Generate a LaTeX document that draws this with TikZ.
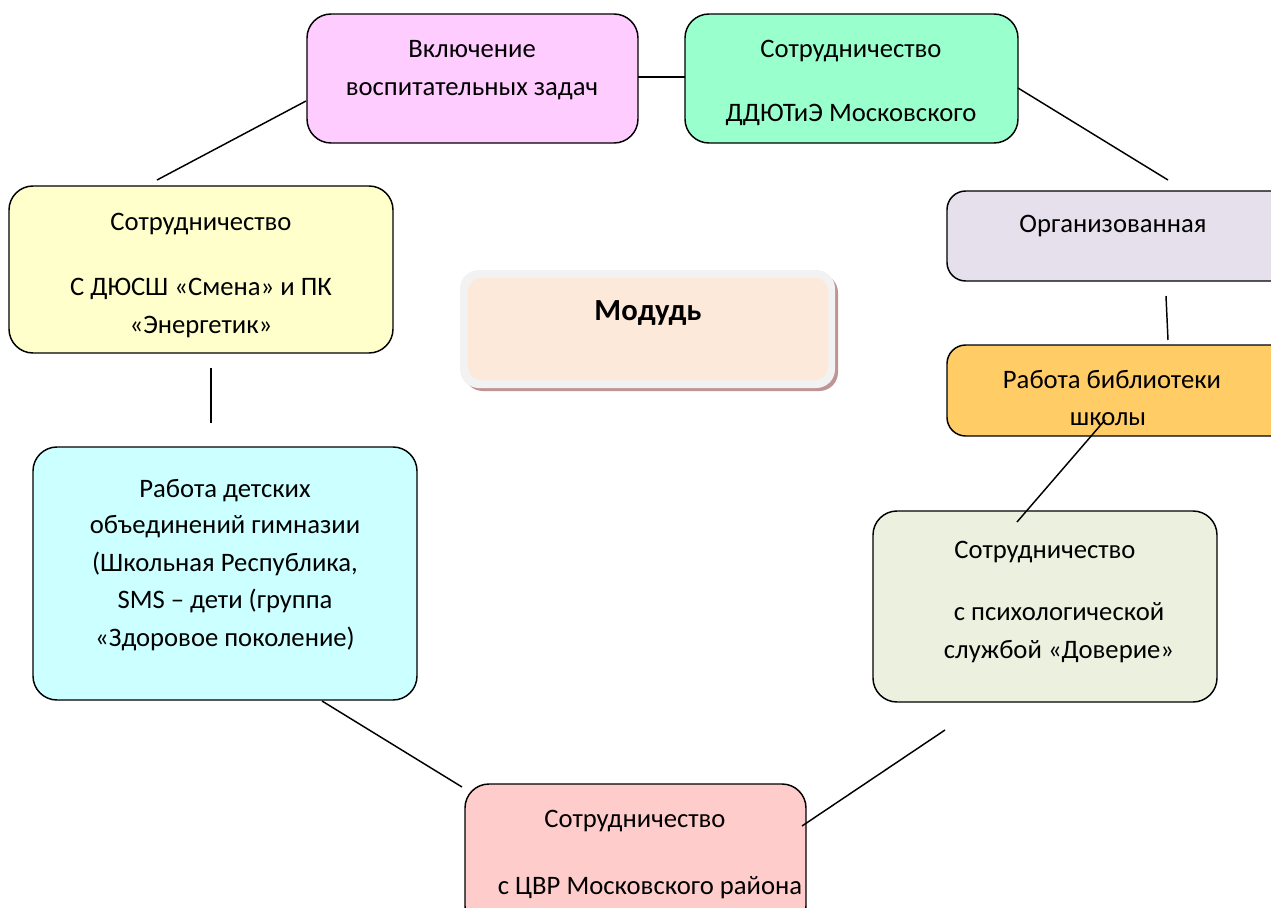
\documentclass[tikz,border=0pt]{standalone}
\usepackage{fontspec}
\setmainfont{Carlito}
\usetikzlibrary{fit}
\definecolor{cpink}{HTML}{FFCCFF}
\definecolor{cgreen}{HTML}{99FFCC}
\definecolor{cyellow}{HTML}{FFFFCC}
\definecolor{clav}{HTML}{E5E0EC}
\definecolor{corange}{HTML}{FFCC66}
\definecolor{ccyan}{HTML}{CCFFFF}
\definecolor{clgreen}{HTML}{EBF1DE}
\definecolor{crose}{HTML}{FFCCCC}
\definecolor{cpeach}{HTML}{FCE9DA}
\definecolor{cgrayb}{HTML}{F2F2F2}
\definecolor{cshadow}{HTML}{BF9494}
\begin{document}
\begin{tikzpicture}[x=0.75pt,y=-0.75pt,
  box/.style={draw=black,line width=1.1pt,rounded corners=18pt,inner sep=0pt},
  sbox/.style={box,rounded corners=14pt},
  txt/.style={anchor=base,inner sep=0pt,font=\fontsize{20}{24}\selectfont},
  link/.style={draw=black,line width=1.1pt}]
\useasboundingbox (0,0) rectangle (1271,907);
\clip (0,0) rectangle (1271,907);

% boxes
\node[box,fill=cpink,fit={(307,14) (638,143)}] (pink) {};
\node[box,fill=cgreen,fit={(685,14) (1018,143)}] (green) {};
\node[box,fill=cyellow,fit={(9,186) (393,353)}] (yellow) {};
\node[sbox,fill=clav,fit={(947,191) (1290,281)}] (lav) {};
\node[sbox,fill=corange,fit={(947,345) (1290,436)}] (orange) {};
\node[box,fill=ccyan,fit={(33,447) (417,700)}] (cyan) {};
\node[box,fill=clgreen,fit={(873,511) (1217,702)}] (lgreen) {};
\node[box,fill=crose,fit={(465,784) (806,930)}] (rose) {};

% central module
\node[fill=cshadow,rounded corners=14pt,inner sep=0pt,fit={(464,274) (838,391)}] (cshadow) {};
\node[fill=cgrayb,rounded corners=14pt,inner sep=0pt,fit={(460,270) (835,388)}] (cframe) {};
\node[fill=cpeach,rounded corners=10pt,inner sep=0pt,fit={(468,278) (828,380)}] (center) {};
\node[anchor=base,inner sep=0pt,font=\fontsize{23}{27}\selectfont\bfseries] (tcenter) at (648,320) {Модудь};

% texts
\node[txt] (t1a) at (472,57) {Включение};
\node[txt] (t1b) at (472,95) {воспитательных задач};
\node[txt] (t2a) at (851,57) {Сотрудничество};
\node[txt] (t2b) at (851,121) {ДДЮТиЭ Московского};
\node[txt] (t3a) at (201,230) {Сотрудничество};
\node[txt] (t3b) at (201,295) {С ДЮСШ «Смена» и ПК};
\node[txt] (t3c) at (201,333) {«Энергетик»};
\node[txt] (t4a) at (1113,232) {Организованная};
\node[txt] (t5a) at (1112,388) {Работа библиотеки};
\node[txt] (t5b) at (1108,425) {школы};
\node[txt] (t6a) at (225,497) {Работа детских};
\node[txt] (t6b) at (225,533) {объединений гимназии};
\node[txt] (t6c) at (225,571) {(Школьная Республика,};
\node[txt] (t6d) at (225,608) {SMS – дети (группа};
\node[txt] (t6e) at (225,646) {«Здоровое поколение)};
\node[txt] (t7a) at (1045,558) {Сотрудничество};
\node[txt] (t7b) at (1059,620) {с психологической};
\node[txt] (t7c) at (1059,658) {службой «Доверие»};
\node[txt] (t8a) at (635,827) {Сотрудничество};
\node[txt] (t8b) at (650,894) {с ЦВР Московского района};

% connector ends
\coordinate (a1) at (157,180);
\coordinate (a2) at (306,101);
\coordinate (b1) at (638,77);
\coordinate (b2) at (685,77);
\coordinate (c1) at (1018,88);
\coordinate (c2) at (1168,180);
\coordinate (d1) at (1166,296);
\coordinate (d2) at (1168,340);
\coordinate (e1) at (1105,420);
\coordinate (e2) at (1017,522);
\coordinate (f1) at (945,730);
\coordinate (f2) at (802,826);
\coordinate (g1) at (322,701);
\coordinate (g2) at (462,787);
\coordinate (h1) at (211,368);
\coordinate (h2) at (211,423);

\draw[link] (a1) -- (a2);
\draw[link] (b1) -- (b2);
\draw[link] (c1) -- (c2);
\draw[link] (d1) -- (d2);
\draw[link] (e1) -- (e2);
\draw[link] (f1) -- (f2);
\draw[link] (g1) -- (g2);
\draw[link] (h1) -- (h2);
\end{tikzpicture}
\end{document}
